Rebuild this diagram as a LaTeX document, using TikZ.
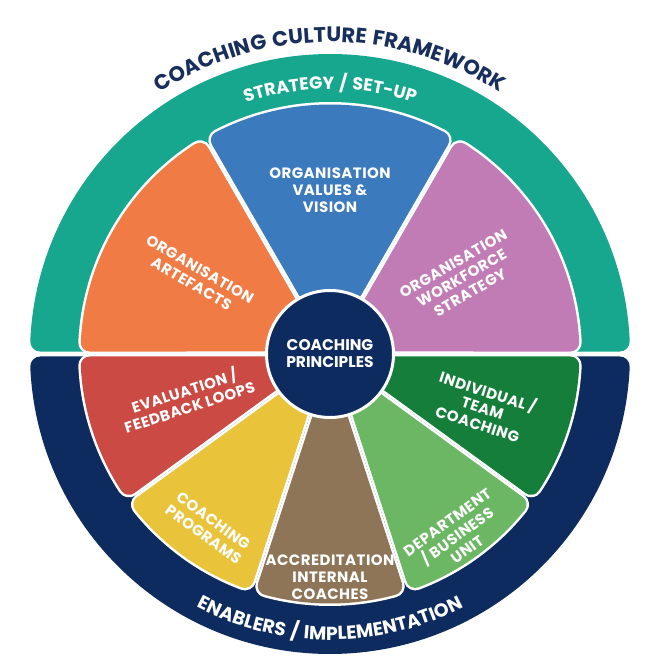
\documentclass[tikz,border=0pt]{standalone}
\usepackage{fontspec}
\setmainfont{Poppins}
\usetikzlibrary{decorations.text}
\definecolor{ringgreen}{HTML}{17A78F}
\definecolor{navy}{HTML}{0D2B5E}
\definecolor{titlenavy}{HTML}{182E5C}
\definecolor{porange}{HTML}{F07B45}
\definecolor{pblue}{HTML}{3B7ABD}
\definecolor{ppurple}{HTML}{C17CB6}
\definecolor{pred}{HTML}{CB4A44}
\definecolor{pyellow}{HTML}{E9C43B}
\definecolor{pbrown}{HTML}{8E7558}
\definecolor{plgreen}{HTML}{6BB763}
\definecolor{pdgreen}{HTML}{167E3B}
\newfontfamily\lblfamily{Poppins}[LetterSpace=3]
\newfontfamily\wideffamily{Poppins}[LetterSpace=6]
\newcommand\lblfont{\lblfamily\fontsize{15}{16.8}\selectfont\bfseries}
\newcommand\titlefont{\wideffamily\fontsize{21}{21}\selectfont\bfseries}
\newcommand\bandfont{\wideffamily\fontsize{17.5}{17.5}\selectfont\bfseries}
\newcommand\enabfont{\wideffamily\fontsize{18.8}{18.8}\selectfont\bfseries}
% petal: #1 start angle, #2 end angle, #3 colour, #4 line width
\newcommand\petalshape[4]{%
  \pgfmathsetmacro\pgA{#1+asin(11.5/240.5)}%
  \pgfmathsetmacro\pgB{#2-asin(11.5/240.5)}%
  \pgfmathsetmacro\pgM{(#1+#2)/2}%
  \pgfmathsetmacro\pgI{11.5/sin((#2-#1)/2)}%
  \path[fill=#3, draw=#3, line width=#4, line join=round]
    (\pgM:\pgI) -- (\pgA:240.5) arc[start angle=\pgA, end angle=\pgB, radius=240.5] -- cycle;
}
\tikzset{
  lbl/.style={text=white, align=center, font=\lblfont, inner sep=0pt},
}
\begin{document}
\begin{tikzpicture}[x=1pt,y=1pt]
\fill[white] (-330,-312) rectangle (321,354);
\useasboundingbox (-330,-312) rectangle (321,354);
% outer ring halves
\pgfmathsetmacro\ta{asin(12.5/290)}
\pgfmathsetmacro\tb{180-\ta}
\path[fill=ringgreen, draw=ringgreen, line width=20pt, line join=round]
  (\ta:290) arc[start angle=\ta, end angle=\tb, radius=290] -- cycle;
\pgfmathsetmacro\tc{180+\ta}
\pgfmathsetmacro\td{360-\ta}
\path[fill=navy, draw=navy, line width=20pt, line join=round]
  (\tc:290) arc[start angle=\tc, end angle=\td, radius=290] -- cycle;
% white outlines of petals
\foreach \a/\b in {120/180,60/120,0/60,180/216,216/252,252/288,288/324,324/360}{
  \petalshape{\a}{\b}{white}{23pt}
}
% petals
\petalshape{120}{180}{porange}{18pt}
\petalshape{60}{120}{pblue}{18pt}
\petalshape{0}{60}{ppurple}{18pt}
\petalshape{180}{216}{pred}{18pt}
\petalshape{216}{252}{pyellow}{18pt}
\petalshape{252}{288}{pbrown}{18pt}
\petalshape{288}{324}{plgreen}{18pt}
\petalshape{324}{360}{pdgreen}{18pt}
% centre
\node[circle, fill=navy, draw=white, line width=3pt, minimum size=127pt, inner sep=0pt,
      text=white, align=center, font=\fontsize{15.5}{17}\selectfont\bfseries] (centre) at (0,0) {COACHING\\PRINCIPLES};
% labels
\node[lbl] (vision) at (90:164) {ORGANISATION\\VALUES \&\\VISION};
\node[lbl, rotate=-30] (artefacts) at (150:155) {ORGANISATION\\ARTEFACTS};
\node[lbl, rotate=30] (workforce) at (30:152) {ORGANISATION\\WORKFORCE\\STRATEGY};
\node[lbl, rotate=18] (evaluation) at (197:150) {EVALUATION /\\FEEDBACK LOOPS};
\node[lbl, rotate=-36] (programs) at (235:212) {COACHING\\PROGRAMS};
\node[lbl] (accreditation) at (270:223) {ACCREDITATION\\INTERNAL\\COACHES};
\node[lbl, rotate=36] (department) at (305:222) {DEPARTMENT\\/ BUSINESS\\UNIT};
\node[lbl, rotate=-18] (individual) at (341:162) {INDIVIDUAL /\\TEAM\\COACHING};
% curved texts
\path[decorate, decoration={text along path, text align=center, text color=titlenavy,
  text={|\titlefont|COACHING CULTURE FRAMEWORK}}]
  (140:312) arc[start angle=140, end angle=40, radius=312];
\path[decorate, decoration={text along path, text align=center, text color=white,
  text={|\bandfont|STRATEGY / SET-UP}}]
  (125:265) arc[start angle=125, end angle=55, radius=265];
\path[decorate, decoration={text along path, text align=center, text color=white,
  text={|\enabfont|ENABLERS / IMPLEMENTATION}}]
  (215:286) arc[start angle=215, end angle=325, radius=286];
\end{tikzpicture}
\end{document}
